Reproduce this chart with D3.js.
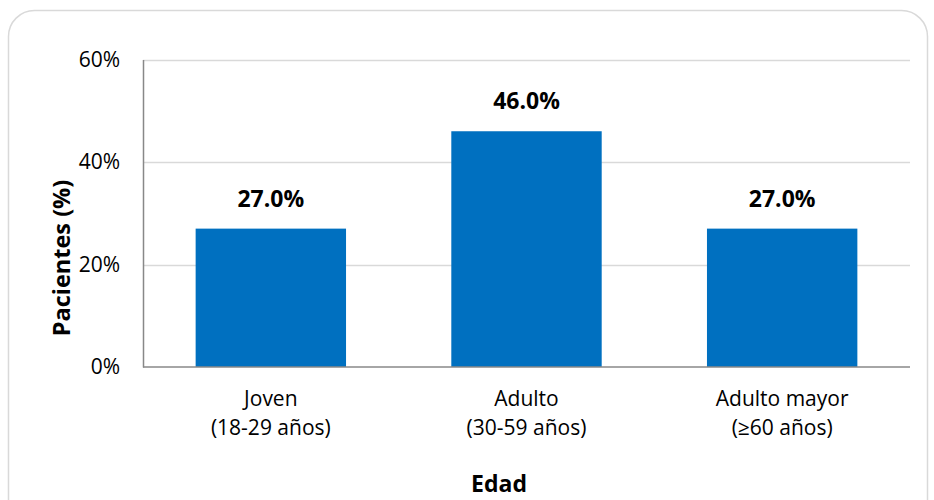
<!DOCTYPE html>
<html><head><meta charset="utf-8">
<script src="https://cdn.jsdelivr.net/npm/d3@7"></script>
<style>body{margin:0;background:#fff}svg{display:block;font-family:"Open Sans",sans-serif}</style>
</head><body><svg id="c" width="934" height="500"></svg>
<script>
const categories = [["Joven","(18-29 años)"],["Adulto","(30-59 años)"],["Adulto mayor","(≥60 años)"]];
const values = [27.0, 46.0, 27.0];
const yTicks = [0, 20, 40, 60];
const yTitle = "Pacientes (%)";
const xTitle = "Edad";

const svg = d3.select("#c");
svg.append("rect").attr("x",8.5).attr("y",10.5).attr("width",919).attr("height",520)
  .attr("rx",26).attr("fill","#fff").attr("stroke","#d9d9d9").attr("stroke-width",1.5);

const m = {left:143, right:910, top:59.5, bottom:367};
const x = d3.scaleBand().domain(d3.range(categories.length)).range([m.left,m.right]).paddingInner(0.7/1.7).paddingOuter(0.35/1.7);
const y = d3.scaleLinear().domain([0,60]).range([m.bottom,m.top]);

// gridlines
svg.append("g").selectAll("line").data(yTicks.filter(d=>d>0)).join("line")
  .attr("x1",m.left).attr("x2",m.right).attr("y1",d=>Math.round(y(d))+0.5).attr("y2",d=>Math.round(y(d))+0.5)
  .attr("stroke","#d9d9d9").attr("stroke-width",1.5);

// y axis labels
const ya = svg.append("g").attr("transform",`translate(${m.left},0)`)
  .call(d3.axisLeft(y).tickValues(yTicks).tickFormat(d=>d+"%").tickSize(0).tickPadding(23));
ya.select(".domain").attr("stroke","#888").attr("stroke-width",1.5);
ya.selectAll("text").attr("font-size",21).attr("fill","#000").attr("font-family","Open Sans");

// bars
svg.append("g").selectAll("rect").data(values).join("rect")
  .attr("x",(d,i)=>x(i)).attr("width",x.bandwidth()).attr("y",d=>y(d)).attr("height",d=>y(0)-y(d))
  .attr("fill","#0070C0");

// x axis line
svg.append("line").attr("x1",m.left).attr("x2",m.right).attr("y1",y(0)).attr("y2",y(0))
  .attr("stroke","#888").attr("stroke-width",1.5);

// value labels
svg.append("g").selectAll("text").data(values).join("text")
  .attr("x",(d,i)=>x(i)+x.bandwidth()/2).attr("y",d=>y(d)-22)
  .attr("text-anchor","middle").attr("font-size",23).attr("font-weight","bold").attr("fill","#000")
  .text(d=>d.toFixed(1)+"%");

// category labels
const cl = svg.append("g").selectAll("text").data(categories).join("text")
  .attr("x",(d,i)=>x(i)+x.bandwidth()/2).attr("y",406)
  .attr("text-anchor","middle").attr("font-size",21).attr("fill","#000");
cl.append("tspan").attr("x",(d,i)=>x(i)+x.bandwidth()/2).text(d=>d[0]);
cl.append("tspan").attr("x",(d,i)=>x(i)+x.bandwidth()/2).attr("dy",29).text(d=>d[1]);

// axis titles
svg.append("text").attr("transform","translate(70,258) rotate(-90)").attr("text-anchor","middle")
  .attr("font-size",23.5).attr("font-weight","bold").attr("fill","#000").text(yTitle);
svg.append("text").attr("x",499).attr("y",492).attr("text-anchor","middle")
  .attr("font-size",23).attr("font-weight","bold").attr("fill","#000").text(xTitle);
</script></body></html>
